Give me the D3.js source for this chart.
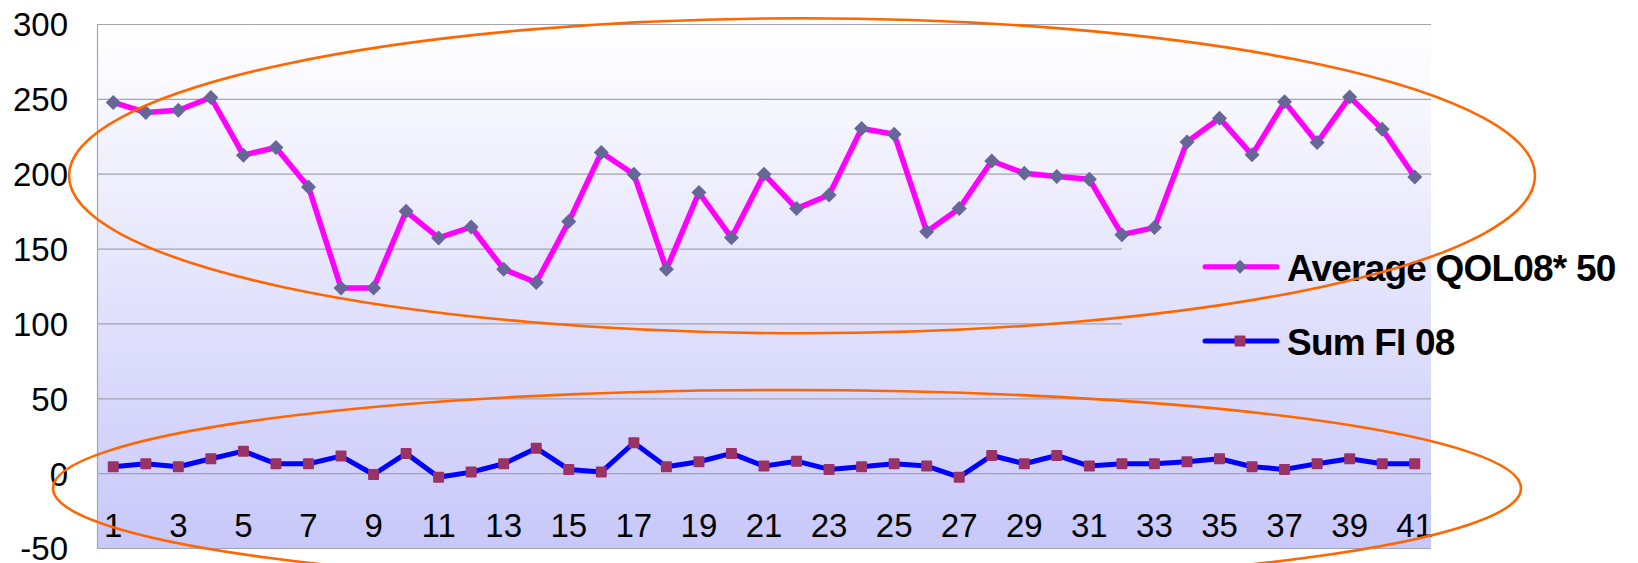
<!DOCTYPE html>
<html>
<head>
<meta charset="utf-8">
<script src="https://cdn.jsdelivr.net/npm/d3@7"></script>
<style>
body { margin: 0; background: #fff; }
text { font-family: Helvetica, "Liberation Sans", Arial, sans-serif; }
</style>
</head>
<body>
<svg id="chart" width="1638" height="563"></svg>
<script>
// categories 1..41
var cats = d3.range(1, 42);
var qol = [247.6, 240.9, 242.4, 250.9, 212.4, 217.5, 191.2, 123.7, 123.7, 174.9,
	157.1, 164.4, 136.2, 127.3, 168.0, 214.2, 199.7, 136.2, 187.4, 157.3,
	199.7, 176.7, 185.8, 230.2, 226.4, 161.3, 176.7, 208.5, 200.3, 198.1,
	196.3, 159.3, 164.0, 221.2, 237.1, 212.6, 248.0, 220.8, 251.3, 229.7, 197.8];
var fi = [4.3, 6.3, 4.3, 9.6, 14.7, 6.3, 6.3, 11.4, -0.9, 13.2,
	-2.7, 0.7, 6.3, 16.7, 2.5, 0.7, 20.3, 4.3, 7.6, 13.2,
	4.7, 8.0, 2.5, 4.3, 6.3, 4.7, -2.7, 11.8, 6.3, 11.8,
	4.7, 6.3, 6.3, 7.6, 9.6, 4.3, 2.5, 6.3, 9.6, 6.3, 6.3];
var yTicks = [-50, 0, 50, 100, 150, 200, 250, 300];
var seriesNames = ["Average QOL08* 50", "Sum FI 08"];

var svg = d3.select("#chart");
var plotL = 97, plotR = 1431, plotT = 24, plotB = 548;

var x = d3.scaleBand().domain(cats).range([plotL, plotR]);
var y = d3.scaleLinear().domain([-50, 300]).range([plotB, plotT]);

var defs = svg.append("defs");
var grad = defs.append("linearGradient")
	.attr("id", "bg")
	.attr("gradientUnits", "userSpaceOnUse")
	.attr("x1", 0).attr("y1", plotT).attr("x2", 0).attr("y2", plotB);
grad.append("stop").attr("offset", "0%").attr("stop-color", "#ffffff");
grad.append("stop").attr("offset", "100%").attr("stop-color", "#c8c8fa");

svg.append("rect")
	.attr("x", plotL).attr("y", plotT)
	.attr("width", plotR - plotL).attr("height", plotB - plotT)
	.attr("fill", "url(#bg)");

// grid lines
svg.append("g")
	.selectAll("line")
	.data(yTicks)
	.enter().append("line")
	.attr("x1", plotL).attr("x2", plotR)
	.attr("y1", function(d){ return y(d) + 0.5; })
	.attr("y2", function(d){ return y(d) + 0.5; })
	.attr("stroke", "#a4a4b0")
	.attr("stroke-width", 1.2);

// left axis line
svg.append("line")
	.attr("x1", plotL + 0.5).attr("x2", plotL + 0.5)
	.attr("y1", plotT).attr("y2", plotB)
	.attr("stroke", "#a4a4b0").attr("stroke-width", 1.2);

// y labels (plain hyphen for negatives)
var yAxis = svg.append("g")
	.attr("transform", "translate(" + (plotL - 29) + ",0)")
	.call(d3.axisLeft(y).tickValues(yTicks).tickSize(0).tickPadding(0)
		.tickFormat(function(d){ return String(d); }));
yAxis.select(".domain").remove();
yAxis.selectAll("text")
	.attr("font-size", "33px")
	.attr("font-family", "Helvetica, 'Liberation Sans', Arial, sans-serif")
	.attr("fill", "#000")
	.attr("dy", "0.36em");

// x labels (odd categories)
var xAxis = svg.append("g")
	.attr("transform", "translate(0,537)")
	.call(d3.axisBottom(x).tickValues(cats.filter(function(d){ return d % 2 == 1; })).tickSize(0).tickPadding(0));
xAxis.select(".domain").remove();
xAxis.selectAll("text")
	.attr("font-size", "33px")
	.attr("font-family", "Helvetica, 'Liberation Sans', Arial, sans-serif")
	.attr("fill", "#000")
	.attr("dy", "0");

// legend box hides gridlines
svg.append("rect")
	.attr("x", 1122).attr("y", 232)
	.attr("width", plotR - 1122).attr("height", 140)
	.attr("fill", "url(#bg)");

function cx(i){ return x(cats[i]) + x.bandwidth() / 2; }

var line = d3.line()
	.x(function(d, i){ return cx(i); })
	.y(function(d){ return y(d); });

// Sum FI line
svg.append("path")
	.datum(fi)
	.attr("fill", "none")
	.attr("stroke", "#0000ff")
	.attr("stroke-width", 5)
	.attr("stroke-linejoin", "round")
	.attr("d", line);
svg.append("g")
	.selectAll("rect")
	.data(fi)
	.enter().append("rect")
	.attr("x", function(d, i){ return cx(i) - 5.5; })
	.attr("y", function(d){ return y(d) - 5.5; })
	.attr("width", 11).attr("height", 11)
	.attr("rx", 1)
	.attr("fill", "#993366");

// Average QOL line
svg.append("path")
	.datum(qol)
	.attr("fill", "none")
	.attr("stroke", "#ff00ff")
	.attr("stroke-width", 5.5)
	.attr("stroke-linejoin", "round")
	.attr("d", line);
svg.append("g")
	.selectAll("path")
	.data(qol)
	.enter().append("path")
	.attr("transform", function(d, i){ return "translate(" + cx(i) + "," + y(d) + ")"; })
	.attr("d", "M0,-7.5L7.5,0L0,7.5L-7.5,0Z")
	.attr("fill", "#666699");

// legend
var legY = [266.7, 341];
var leg = svg.append("g");
leg.append("line").attr("x1", 1205).attr("x2", 1277).attr("y1", legY[0]).attr("y2", legY[0])
	.attr("stroke", "#ff00ff").attr("stroke-width", 5).attr("stroke-linecap", "round");
leg.append("path").attr("transform", "translate(1240," + legY[0] + ")")
	.attr("d", "M0,-7L7,0L0,7L-7,0Z").attr("fill", "#666699");
leg.append("line").attr("x1", 1205).attr("x2", 1277).attr("y1", legY[1]).attr("y2", legY[1])
	.attr("stroke", "#0000ff").attr("stroke-width", 5).attr("stroke-linecap", "round");
leg.append("rect").attr("x", 1234.5).attr("y", legY[1] - 5.5).attr("width", 11).attr("height", 11)
	.attr("rx", 1).attr("fill", "#993366");
leg.selectAll("text")
	.data(seriesNames)
	.enter().append("text")
	.attr("x", 1287)
	.attr("y", function(d, i){ return legY[i] + 14; })
	.attr("font-size", "37px")
	.attr("font-weight", "bold")
	.attr("letter-spacing", "-0.8px")
	.attr("fill", "#000")
	.text(function(d){ return d; });

// orange ellipses
svg.append("ellipse")
	.attr("cx", 802).attr("cy", 175.8).attr("rx", 733).attr("ry", 157.5)
	.attr("fill", "none").attr("stroke", "#ff6600").attr("stroke-width", 2.6);
svg.append("ellipse")
	.attr("cx", 787).attr("cy", 488.3).attr("rx", 734).attr("ry", 98.3)
	.attr("fill", "none").attr("stroke", "#ff6600").attr("stroke-width", 2.6);
</script>
</body>
</html>
